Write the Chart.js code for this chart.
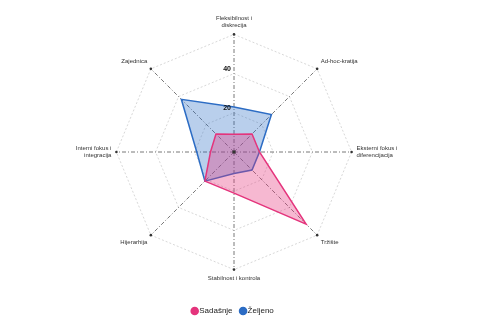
<!DOCTYPE html>
<html>
<head>
<meta charset="utf-8">
<script src="https://cdn.jsdelivr.net/npm/chart.js@4"></script>
<style>
  html, body { margin: 0; padding: 0; background: #fff; }
  #wrap { width: 477px; height: 325px; }
</style>
</head>
<body>
<div id="wrap"><canvas id="radar"></canvas></div>
<script>
// axis names, clockwise from top
const axes = [
  ['Fleksibilnost i', 'diskrecija'],
  'Ad-hoc-kratija',
  ['Eksterni fokus i', 'diferencijacija'],
  'Tržište',
  'Stabilnost i kontrola',
  'Hijerarhija',
  ['Interni fokus i', 'integracija'],
  'Zajednica'
]
const sadasnje = [9, 13, 13, 52, 21, 21, 12, 13]
const zeljeno = [23, 27, 13, 13, 11, 21, 19, 38]
const tickLabels = [20, 40]

const pink = '#e4347c'
const blue = '#2c6cc4'

// small dots at the axis ends + center, and the 20/40 labels
const axisDots = {
  id: 'axisDots',
  afterDraw(chart) {
    const s = chart.scales.r
    const ctx = chart.ctx
    ctx.save()
    ctx.fillStyle = '#333'
    for (let i = 0; i < axes.length; i++) {
      const p = s.getPointPosition(i, s.drawingArea)
      ctx.beginPath()
      ctx.arc(p.x, p.y, 1.3, 0, Math.PI * 2)
      ctx.fill()
    }
    ctx.beginPath()
    ctx.arc(s.xCenter, s.yCenter, 1.8, 0, Math.PI * 2)
    ctx.fill()

    ctx.font = 'bold 7px "Liberation Sans", Arial, sans-serif'
    ctx.textAlign = 'right'
    ctx.textBaseline = 'bottom'
    ctx.fillStyle = '#111'
    tickLabels.forEach(v => {
      const d = s.getDistanceFromCenterForValue(v)
      ctx.fillText(String(v), s.xCenter - 3, s.yCenter - d - 1)
    })
    ctx.restore()
  }
}

new Chart(document.getElementById('radar').getContext('2d'), {
  type: 'radar',
  data: {
    labels: axes,
    datasets: [
      {
        label: 'Sadašnje',
        data: sadasnje,
        borderColor: pink,
        backgroundColor: 'rgba(228, 52, 124, 0.35)',
        borderWidth: 1.5,
        pointRadius: 0,
        pointBackgroundColor: pink,
      },
      {
        label: 'Željeno',
        data: zeljeno,
        borderColor: blue,
        backgroundColor: 'rgba(44, 108, 196, 0.33)',
        borderWidth: 1.5,
        pointRadius: 0,
        pointBackgroundColor: blue,
      },
    ],
  },
  options: {
    responsive: true,
    maintainAspectRatio: false,
    animation: false,
    layout: { padding: { top: 12, bottom: 0, left: 0, right: 9 } },
    plugins: {
      legend: {
        position: 'bottom',
        // empty title just adds some room above the items
        title: { display: true, text: '', padding: 0, font: { size: 9 } },
        labels: {
          usePointStyle: true,
          pointStyle: 'circle',
          boxWidth: 1,
          boxHeight: 5,
          color: '#222',
          font: { size: 8, family: '"Liberation Sans", Arial, sans-serif' },
        },
      },
      tooltip: { enabled: false },
    },
    scales: {
      r: {
        min: 0,
        max: 60,
        ticks: { stepSize: 20, display: false },
        grid: {
          color: '#bdbdbd',
          lineWidth: 0.6,
        },
        border: { dash: [2, 2] },
        angleLines: {
          color: '#555',
          lineWidth: 0.8,
          borderDash: [4, 2, 1, 2],
        },
        pointLabels: {
          color: '#333',
          padding: 5,
          font: { size: 6, family: '"Liberation Sans", Arial, sans-serif' },
        },
      },
    },
  },
  plugins: [axisDots],
})
</script>
</body>
</html>
